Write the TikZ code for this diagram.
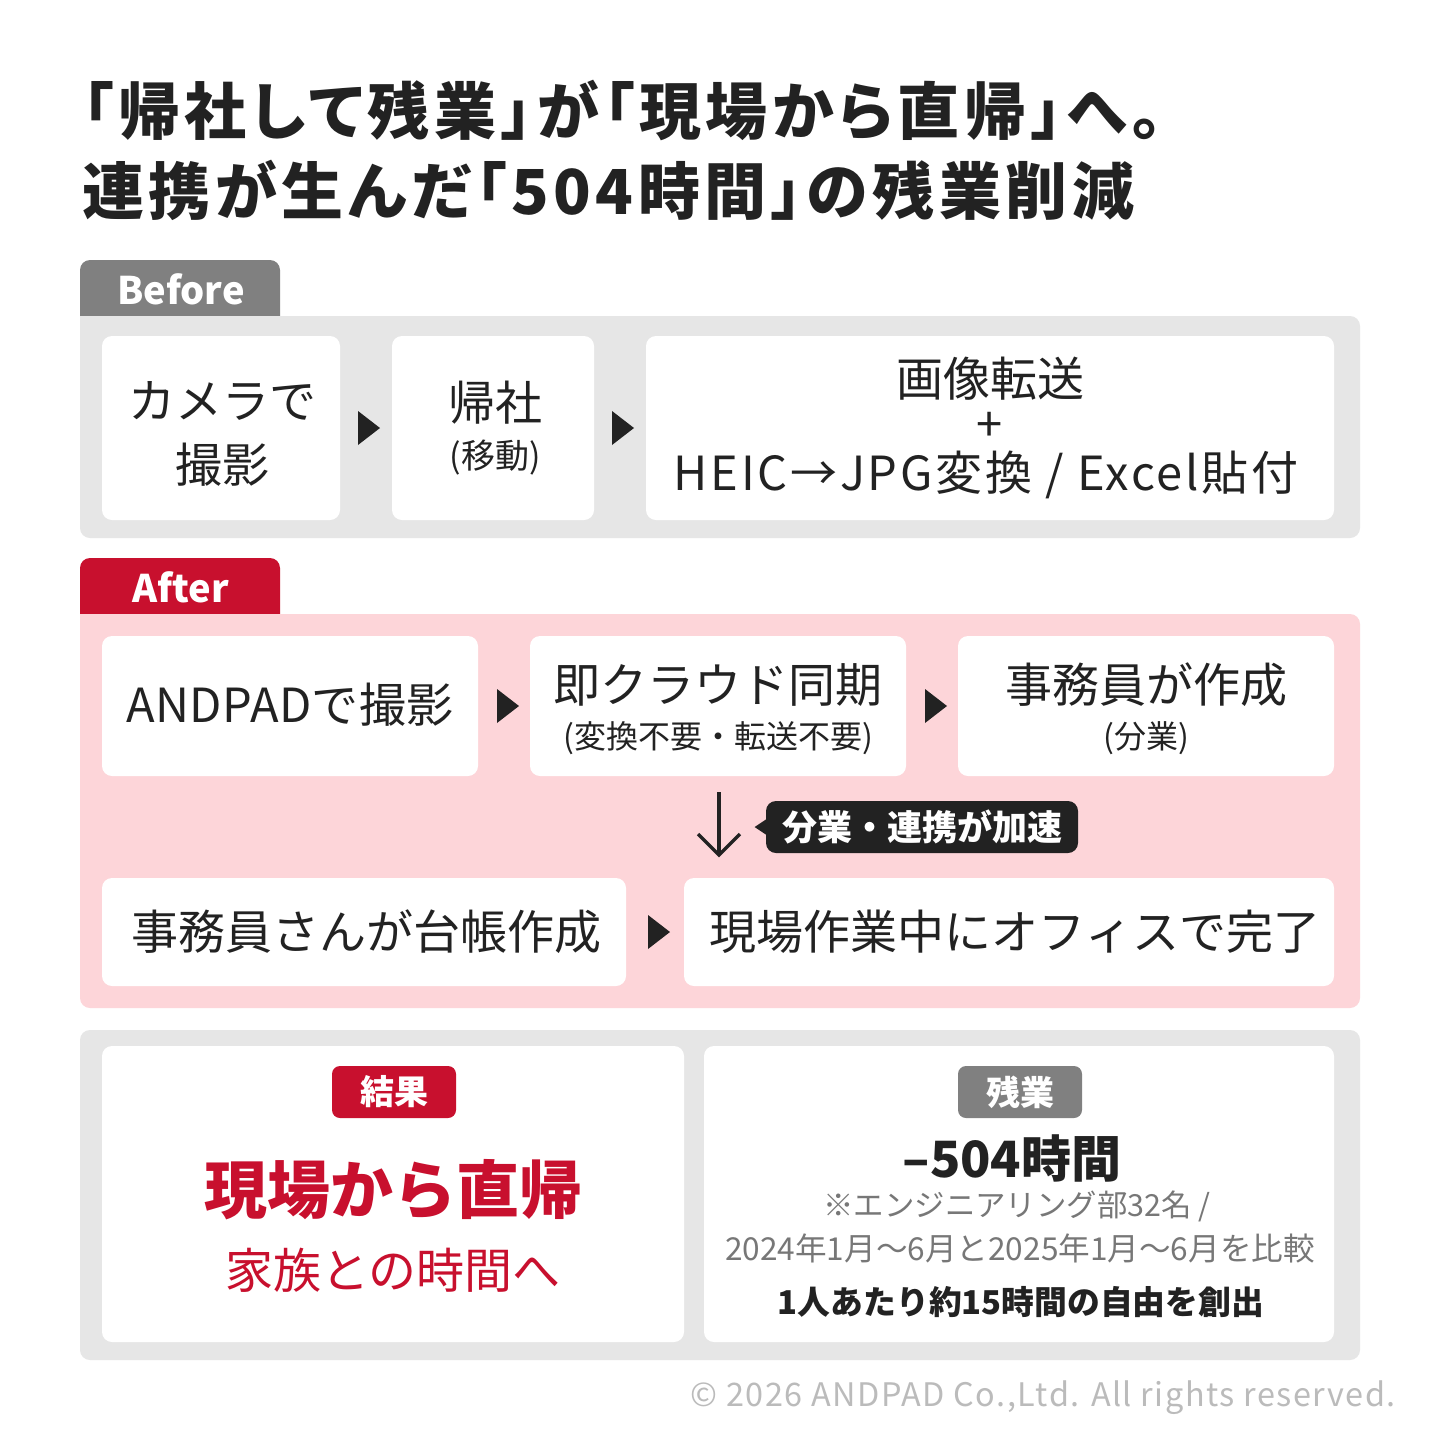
\documentclass[tikz,border=0pt]{standalone}
\usepackage{fontspec}
\setmainfont{Noto Sans CJK JP}
\newfontfamily\titlefont{Noto Sans CJK JP}[RawFeature=+palt]
\usetikzlibrary{calc}
\definecolor{ink}{HTML}{222222}
\definecolor{tabgray}{HTML}{808080}
\definecolor{panelgray}{HTML}{E6E6E6}
\definecolor{brandred}{HTML}{C8102E}
\definecolor{pinkbg}{HTML}{FDD5D9}
\definecolor{notegray}{HTML}{777777}
\definecolor{copygray}{HTML}{BBBBBB}
\newcommand{\fsz}[1]{\fontsize{#1pt}{#1pt}\selectfont}
\begin{document}
\begin{tikzpicture}[x=0.5pt,y=-0.5pt,
  card/.style={fill=white, rounded corners=5pt, inner sep=0pt, draw=none},
  boxtxt/.style={inner sep=0pt, text=ink, font=\fsz{23.5}},
  subtxt/.style={inner sep=0pt, text=ink, font=\fsz{16}},
  tri/.style={fill=ink},
  tablabel/.style={inner sep=0pt, text=white, font=\fsz{19}\bfseries},
  badge/.style={rounded corners=4pt, inner sep=0pt, minimum width=62pt, minimum height=26pt, text=white, font=\fsz{17}\bfseries},
  callout/.style={fill=ink, rounded corners=5pt, inner sep=0pt, minimum width=156pt, minimum height=26pt, text=white, font=\fsz{17.5}\bfseries},
  note/.style={inner sep=0pt, text=notegray},
]
\useasboundingbox (0,0) rectangle (1440,1440);
\fill[white] (0,0) rectangle (1440,1440);

% Title
\node[anchor=west, inner sep=0pt, text=ink] (t1) at (82,110) {\titlefont\bfseries\fsz{31}\addfontfeatures{LetterSpace=7.6}「帰社して残業」が「現場から直帰」へ。};
\node[anchor=west, inner sep=0pt, text=ink] (t2) at (82,190) {\titlefont\bfseries\fsz{31}\addfontfeatures{LetterSpace=7.4}連携が生んだ「504時間」の残業削減};

% ---------- Before ----------
\fill[tabgray, rounded corners=5pt] (80,260) rectangle (280,340);
\fill[panelgray, rounded corners=5pt] (80,316) rectangle (1360,538);
\fill[panelgray] (80,316) rectangle (100,336);
\node[tablabel] (tabB) at (181,289) {Before};

\node[card, minimum width=119pt, minimum height=92pt] (b1) at (221,428) {};
\node[card, minimum width=101pt, minimum height=92pt] (b2) at (493,428) {};
\node[card, minimum width=344pt, minimum height=92pt] (b3) at (990,428) {};

\node[boxtxt] (b1a) at (222,401) {カメラで};
\node[boxtxt] (b1b) at (222,465) {撮影};
\node[boxtxt] (b2a) at (495,403) {帰社};
\node[inner sep=0pt, text=ink, font=\fsz{17}] (b2b) at (495,458) {(移動)};
\node[boxtxt] (b3a) at (990,379) {画像転送};
\node[boxtxt] (b3b) at (990,427) {+};
\node[boxtxt] (b3c) at (986,475) {\addfontfeatures{LetterSpace=5.8}HEIC→JPG変換 / Excel貼付};

\fill[tri] ($(b1.east)!0.5!(b2.west)+(3,0)$) ++(-11,-17) -- ++(22,17) -- ++(-22,17) -- cycle;
\fill[tri] ($(b2.east)!0.5!(b3.west)+(3,0)$) ++(-11,-17) -- ++(22,17) -- ++(-22,17) -- cycle;

% ---------- After ----------
\fill[brandred, rounded corners=5pt] (80,558) rectangle (280,640);
\fill[pinkbg, rounded corners=5pt] (80,614) rectangle (1360,1008);
\fill[pinkbg] (80,614) rectangle (100,634);
\node[tablabel] (tabA) at (181,587) {After};

\node[card, minimum width=188pt, minimum height=70pt] (a1) at (290,706) {};
\node[card, minimum width=188pt, minimum height=70pt] (a2) at (718,706) {};
\node[card, minimum width=188pt, minimum height=70pt] (a3) at (1146,706) {};
\node[card, minimum width=262pt, minimum height=54pt] (a4) at (364,932) {};
\node[card, minimum width=325pt, minimum height=54pt] (a5) at (1009,932) {};

\node[boxtxt] (a1t) at (290,705) {\addfontfeatures{LetterSpace=1}ANDPADで撮影};
\node[boxtxt] (a2a) at (718,685) {即クラウド同期};
\node[subtxt] (a2b) at (718,738) {(変換不要・転送不要)};
\node[boxtxt] (a3a) at (1146,685) {事務員が作成};
\node[subtxt] (a3b) at (1146,738) {(分業)};
\node[boxtxt] (a4t) at (366,932) {事務員さんが台帳作成};
\node[boxtxt] (a5t) at (1015,932) {現場作業中にオフィスで完了};

\fill[tri] ($(a1.east)!0.5!(a2.west)+(4,0)$) ++(-11,-17) -- ++(22,17) -- ++(-22,17) -- cycle;
\fill[tri] ($(a2.east)!0.5!(a3.west)+(4,0)$) ++(-11,-17) -- ++(22,17) -- ++(-22,17) -- cycle;
\fill[tri] ($(a4.east)!0.5!(a5.west)+(4,0)$) ++(-11,-17) -- ++(22,17) -- ++(-22,17) -- cycle;

% down arrow
\coordinate (dA) at (719,792);
\coordinate (dB) at (719,855);
\draw[ink, line width=1.75pt] (dA) -- (dB);
\draw[ink, line width=1.75pt, line join=miter] ($(dB)+(-21,-21)$) -- (dB) -- ($(dB)+(21,-21)$);

% callout
\node[callout] (cl) at (922,827) {分業・連携が加速};
\fill[ink] ($(cl.west)+(1,-8)$) -- ++(-12,8) -- ++(12,8) -- cycle;

% ---------- Result ----------
\fill[panelgray, rounded corners=5pt] (80,1030) rectangle (1360,1360);
\node[card, minimum width=291pt, minimum height=148pt] (r1) at (393,1194) {};
\node[card, minimum width=315pt, minimum height=148pt] (r2) at (1019,1194) {};

\node[badge, fill=brandred] (bg1) at (394,1092) {結果};
\node[inner sep=0pt, text=brandred, font=\fsz{31.5}\bfseries] (r1a) at (393,1190) {現場から直帰};
\node[inner sep=0pt, text=brandred, font=\fsz{24}] (r1b) at (393,1270) {家族との時間へ};

\node[badge, fill=tabgray] (bg2) at (1020,1092) {残業};
\node[inner sep=0pt, text=ink, font=\fsz{25}\bfseries] (r2a) at (1012,1158) {–504時間};
\node[note, font=\fsz{15.2}] (r2b) at (1017,1206) {※エンジニアリング部32名 /};
\node[note, font=\fsz{15.8}] (r2c) at (1020,1248) {2024年1月〜6月と2025年1月〜6月を比較};
\node[inner sep=0pt, text=ink, font=\fsz{16.4}\bfseries] (r2d) at (1021,1302) {1人あたり約15時間の自由を創出};

% copyright
\node[anchor=east, inner sep=0pt, text=copygray, font=\fsz{16.2}] (cp) at (1396,1398) {\addfontfeatures{LetterSpace=4.5}© 2026 ANDPAD Co.,Ltd. All rights reserved.};
\end{tikzpicture}
\end{document}
